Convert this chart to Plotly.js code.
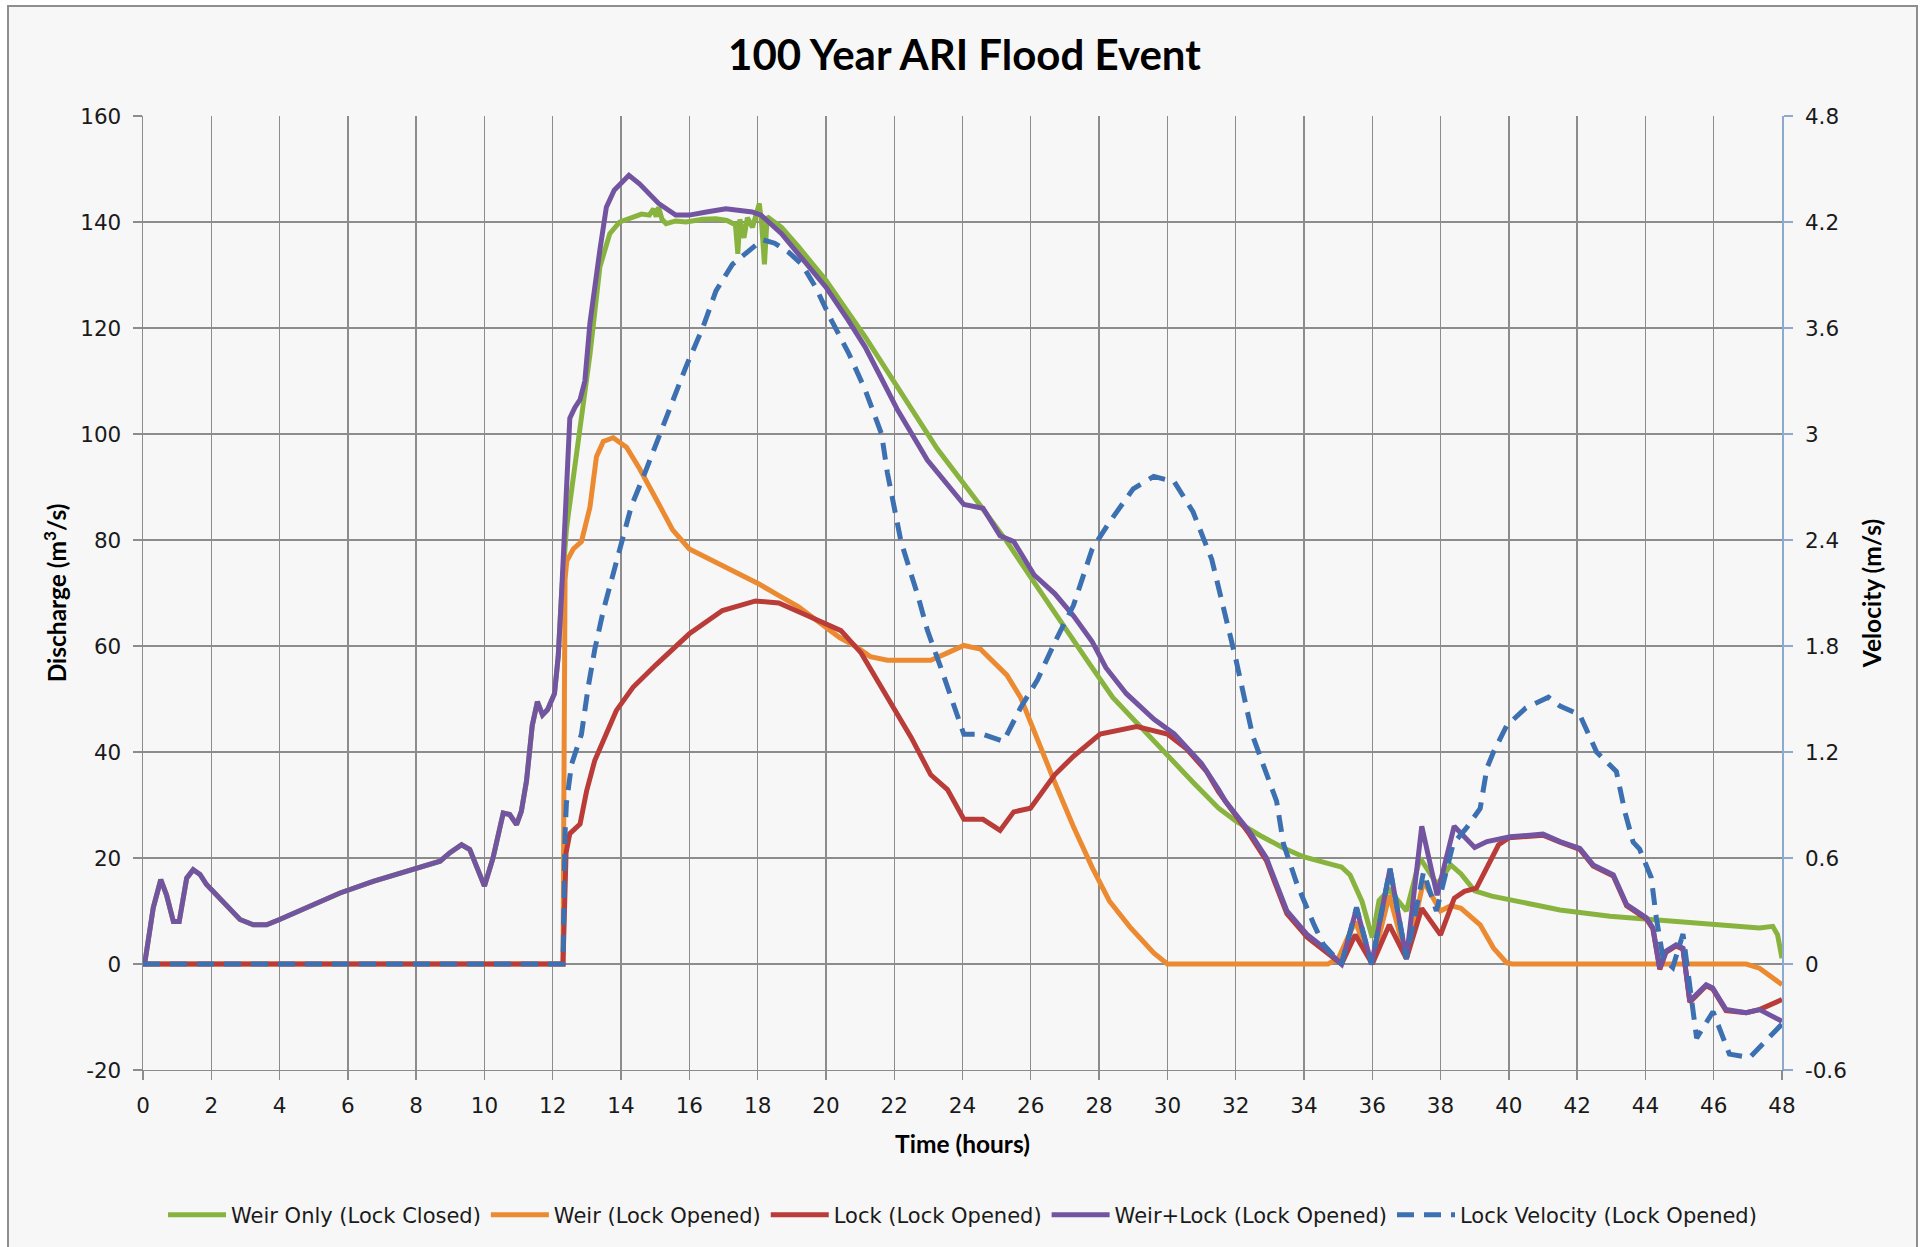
<!DOCTYPE html>
<html>
<head>
<meta charset="utf-8">
<script src="https://cdn.plot.ly/plotly-3.0.1.min.js"></script>
<style>
  html, body { margin:0; padding:0; background:#ffffff; }
  #wrap { position:relative; width:1921px; height:1247px; overflow:hidden; }
  #frame { position:absolute; left:7px; top:5px; width:1911px; height:1260px; border:2px solid #8e8e8e; background:#f7f7f7; box-sizing:border-box; }
  #chart { position:absolute; left:0; top:0; width:1921px; height:1247px; }
</style>
</head>
<body>
<div id="wrap">
  <div id="frame"></div>
  <div id="chart"></div>
</div>
<script>
// ---- Data ----
const seriesNames = ['Weir Only (Lock Closed)', 'Weir (Lock Opened)', 'Lock (Lock Opened)', 'Weir+Lock (Lock Opened)', 'Lock Velocity (Lock Opened)'];

const weirLockT = [0,0.06,0.3,0.52,0.69,0.89,1.06,1.28,1.47,1.67,1.86,2.35,2.84,3.23,3.62,4.0,4.8,5.77,6.74,7.72,8.7,8.99,9.33,9.57,9.77,10.0,10.25,10.55,10.74,10.94,11.08,11.23,11.4,11.55,11.7,11.85,12.05,12.16,12.26,12.33,12.4,12.5,12.65,12.8,12.94,13.09,13.38,13.57,13.8,14.23,14.54,15.1,15.6,16.0,16.5,17.07,17.84,18.1,18.7,19.2,20.0,20.66,21.15,21.6,22.1,22.97,24.04,24.6,25.1,25.5,26.1,26.7,27.25,27.8,28.2,28.8,29.6,30.2,31.0,31.5,31.7,32.4,32.9,33.5,34.1,34.6,35.1,35.54,35.98,36.52,37.0,37.45,37.9,38.4,38.7,39.0,39.36,40.04,41.0,41.5,42.08,42.47,43.06,43.45,44.03,44.22,44.42,44.6,44.9,45.1,45.3,45.78,45.97,46.36,46.95,47.34,48];
const weirLockQ = [0,0.5,10.6,15.9,13,8,8,16.2,17.8,16.9,15,11.8,8.4,7.4,7.4,8.4,10.6,13.4,15.6,17.5,19.4,21,22.5,21.6,18.1,14.7,20,28.5,28.2,26.3,28.8,34.5,45,49.5,47,48,51,58,70,81,92,103,105,106.5,110,121,134.7,142.8,146,148.8,147.2,143.5,141.3,141.3,141.9,142.5,141.9,141.3,137.8,134,127.7,121.4,116.4,110.8,104.5,95.1,86.7,86,80.8,79.7,73.4,69.9,65.7,60.8,55.9,51,46.2,43.4,37.8,32.9,30.7,25,20,10,5.5,3,0,10.5,0,18,1,26,13,26,24,22,23.1,24,24.5,23.1,21.8,18.7,16.8,11.2,8.7,6.8,-0.8,2.4,3.6,3,-7,-3.9,-4.5,-8.6,-9.2,-8.6,-10.8];

const weirOnlyT = [0,0.06,0.3,0.52,0.69,0.89,1.06,1.28,1.47,1.67,1.86,2.35,2.84,3.23,3.62,4.0,4.8,5.77,6.74,7.72,8.7,8.99,9.33,9.57,9.77,10.0,10.25,10.55,10.74,10.94,11.08,11.23,11.4,11.55,11.7,11.85,12.05,12.16,12.26,12.33,12.4,12.46,12.6,12.8,13.09,13.38,13.67,13.96,14.35,14.6,14.83,14.95,15.03,15.1,15.2,15.32,15.6,15.9,16.4,16.78,17.1,17.35,17.42,17.48,17.6,17.7,17.85,17.95,18.05,18.12,18.2,18.28,18.4,18.7,19.2,20.0,21.15,22.1,23.26,24.5,25.3,26.1,26.9,27.65,28.4,29.2,29.96,30.75,31.5,32.0,32.7,33.4,34.0,34.5,34.86,35.1,35.35,35.7,36.0,36.2,36.5,37.0,37.4,37.9,38.3,38.6,39.0,39.5,40.04,41.5,42.96,44.42,45.88,47.34,47.73,47.87,48];
const weirOnlyQ = [0,0.5,10.6,15.9,13,8,8,16.2,17.8,16.9,15,11.8,8.4,7.4,7.4,8.4,10.6,13.4,15.6,17.5,19.4,21,22.5,21.6,18.1,14.7,20,28.5,28.2,26.3,28.8,34.5,45,49.5,47,48,51,58,70,78,82,85,92,100.5,115,131.5,137.8,140,141,141.5,141.3,142.5,141,142.8,140.5,139.7,140.2,140,140.5,140.6,140.3,139.5,134,140.5,137,140.8,139,141.5,143.5,139.5,132,141,140.5,139,135.3,129,118.3,108.9,97.2,86.7,79.7,72,64.3,57.3,50.3,44.8,39.9,34.3,29.4,27,24.3,21.9,20.2,19.2,18.7,18.3,16.8,11.8,5,12,14,10,20,15,18.7,17,13.8,12.8,12.1,10.2,9,8.3,7.4,6.8,7.1,5.5,1.1];

const weirT = [0,12.3,12.36,12.41,12.6,12.84,13.09,13.28,13.48,13.77,14.16,14.54,15.03,15.51,16.0,16.68,17.46,18.04,18.6,19.2,19.8,20.4,20.83,21.3,21.8,23.07,23.56,24.04,24.53,25.3,25.7,26.2,26.7,27.25,27.8,28.3,28.9,29.6,30.0,34.7,35.0,35.5,36.0,36.5,37.0,37.5,38.0,38.3,38.6,39.16,39.55,39.94,40.1,46.95,47.34,48];
const weirQ = [0,0,72.5,76,78.3,79.7,86.2,95.7,98.6,99.3,97.5,93.5,87.7,81.9,78.3,76.1,73.6,71.7,69.6,67.4,64.5,61.6,60.1,58,57.3,57.3,58.7,60.1,59.4,54.5,50.3,42,34.3,25.9,18.2,11.9,7,2.1,0,0,1,8,0,13,1,15.6,10,11,10.5,7.4,3,0.2,0,0,-0.8,-3.9];

const lockT = [0,12.3,12.39,12.5,12.8,12.99,13.23,13.48,13.86,14.35,15.03,16.0,16.97,17.94,18.62,19.4,19.86,20.44,21.03,21.8,22.5,23.07,23.56,24.04,24.6,25.1,25.5,25.99,26.7,27.25,28.03,29.1,30.0,30.56,31.14,31.5,32.4,32.9,33.5,34.1,34.6,35.1,35.5,36.0,36.5,37.0,37.45,38.0,38.4,38.7,39.05,39.35,39.7,40.0,41.0,41.5,42.08,42.47,43.06,43.45,44.03,44.22,44.42,44.6,44.9,45.1,45.3,45.78,45.97,46.36,46.95,47.34,48];
const lockQ = [0,0,21,24.6,26.4,32.6,38.4,42,47.8,52.2,56.5,62.3,66.7,68.5,68.1,65.9,64.5,62.9,58.7,50.3,42.7,35.7,32.9,27.3,27.3,25.2,28.7,29.4,35.7,39.2,43.4,44.8,43.4,40.6,36.4,32.5,24.5,19.5,9.5,5,2.5,0,5.5,0,7.4,1,10.5,5.5,12.4,13.7,14.3,18,22.5,23.8,24.3,23,21.6,18.5,16.6,11,8.5,6.6,-1,2.2,3.4,2.8,-7.2,-4.1,-4.7,-8.8,-9.2,-8.6,-6.7];

const velT = [0,12.3,12.36,12.4,12.55,12.84,13.04,13.23,13.48,13.72,14.0,14.3,14.74,15.13,15.6,15.9,16.39,16.78,17.26,17.75,18.14,18.5,18.9,19.3,19.7,20.17,20.66,21.15,21.63,21.8,22.2,22.7,22.97,23.36,23.75,24.04,24.6,25.2,25.7,26.2,26.7,27.25,27.8,28.3,29.0,29.6,30.2,30.75,31.3,32.0,32.5,33.2,33.4,33.8,34.3,34.57,35.1,35.54,35.98,36.52,37.0,37.5,37.88,38.37,38.76,39.16,39.36,39.55,39.94,40.5,41.16,41.5,42.08,42.57,43.15,43.4,43.64,43.83,44.17,44.32,44.52,44.8,45.1,45.3,45.5,45.98,46.27,46.46,47.05,47.6,48];
const velV = [0,0,0.74,0.91,1.13,1.30,1.57,1.78,2.0,2.17,2.39,2.59,2.8,3.0,3.24,3.38,3.6,3.81,3.96,4.04,4.1,4.08,4.03,3.96,3.83,3.64,3.46,3.25,3.0,2.78,2.39,2.08,1.89,1.68,1.47,1.30,1.30,1.26,1.45,1.61,1.82,2.03,2.35,2.50,2.69,2.76,2.73,2.56,2.29,1.73,1.29,0.92,0.68,0.45,0.22,0.11,0,0.32,0,0.54,0.03,0.52,0.3,0.68,0.77,0.88,1.11,1.2,1.35,1.45,1.51,1.46,1.41,1.2,1.09,0.86,0.69,0.65,0.49,0.26,0.03,-0.02,0.17,-0.12,-0.42,-0.27,-0.42,-0.51,-0.53,-0.42,-0.34];

const xTickVals = [0,2,4,6,8,10,12,14,16,18,20,22,24,26,28,30,32,34,36,38,40,42,44,46,48];
const yTickVals = [-20,0,20,40,60,80,100,120,140,160];
const y2TickVals = [-0.6,0,0.6,1.2,1.8,2.4,3,3.6,4.2,4.8];
const y2TickText = ['-0.6','0','0.6','1.2','1.8','2.4','3','3.6','4.2','4.8'];

// ---- Styling ----
const colors = ['#88b33f', '#ec8a31', '#b93c39', '#7354a0', '#3c70b1'];
const tickFont = {family:'DejaVu Sans', size:21.5, color:'#1a1a1a'};
const titleFont = {family:'Lato', size:24.5, color:'#000', weight:'bold'};
const grid = '#8c8c8c';
const LW = 5;

const traces = [
  {x:weirOnlyT, y:weirOnlyQ, name:seriesNames[0], type:'scatter', mode:'lines', line:{color:colors[0], width:LW}},
  {x:weirT, y:weirQ, name:seriesNames[1], type:'scatter', mode:'lines', line:{color:colors[1], width:LW}},
  {x:lockT, y:lockQ, name:seriesNames[2], type:'scatter', mode:'lines', line:{color:colors[2], width:LW}},
  {x:weirLockT, y:weirLockQ, name:seriesNames[3], type:'scatter', mode:'lines', line:{color:colors[3], width:LW}},
  {x:velT, y:velV, name:seriesNames[4], type:'scatter', mode:'lines', yaxis:'y2', line:{color:colors[4], width:LW, dash:'17px,10px'}}
];

const layout = {
  width:1921, height:1247,
  paper_bgcolor:'rgba(0,0,0,0)', plot_bgcolor:'rgba(0,0,0,0)',
  margin:{l:143, r:138.5, t:115.5, b:176.5, pad:0},
  showlegend:true,
  title:{text:'100 Year ARI Flood Event', font:{family:'Lato', size:42, color:'#000', weight:'bold'},
         x:0.5012, xref:'paper', xanchor:'center', y:1-55/1247, yref:'container', yanchor:'middle'},
  xaxis:{range:[0,48], tickmode:'array', tickvals:xTickVals, ticktext:xTickVals.map(String),
         showgrid:true, gridcolor:grid, gridwidth:1.4, zeroline:false,
         showline:true, linecolor:grid, linewidth:1.4, ticks:'outside', ticklen:9, tickcolor:grid, tickwidth:1.4,
         ticklabelstandoff:7,
         tickfont:tickFont, title:{text:'Time (hours)', font:titleFont, standoff:18}},
  yaxis:{range:[-20,160], tickmode:'array', tickvals:yTickVals, ticktext:yTickVals.map(String),
         showgrid:true, gridcolor:grid, gridwidth:1.4, zeroline:false,
         showline:true, linecolor:grid, linewidth:1.4, ticks:'outside', ticklen:9, tickcolor:grid, tickwidth:1.4,
         ticklabelstandoff:7,
         tickfont:tickFont, title:{text:'Discharge (m<sup>3</sup>/s)', font:titleFont, standoff:6}},
  yaxis2:{range:[-0.6,4.8], overlaying:'y', side:'right', tickmode:'array', tickvals:y2TickVals, ticktext:y2TickText,
          showgrid:false, zeroline:false, showline:true, linecolor:'#8fa9cc', linewidth:1.6,
          ticks:'outside', ticklen:9, tickcolor:'#8fa9cc', tickwidth:1.4,
          ticklabelstandoff:8,
          tickfont:tickFont, title:{text:'Velocity (m/s)', font:titleFont, standoff:18}},
  legend:{orientation:'h', x:0.5, xref:'paper', xanchor:'center', y:1-1215/1247, yref:'container', yanchor:'middle',
          font:{family:'DejaVu Sans', size:21, color:'#1a1a1a'}, itemwidth:58, tracegroupgap:0, bgcolor:'rgba(0,0,0,0)'}
};

Plotly.newPlot('chart', traces, layout, {displayModeBar:false, staticPlot:true});
</script>
</body>
</html>
